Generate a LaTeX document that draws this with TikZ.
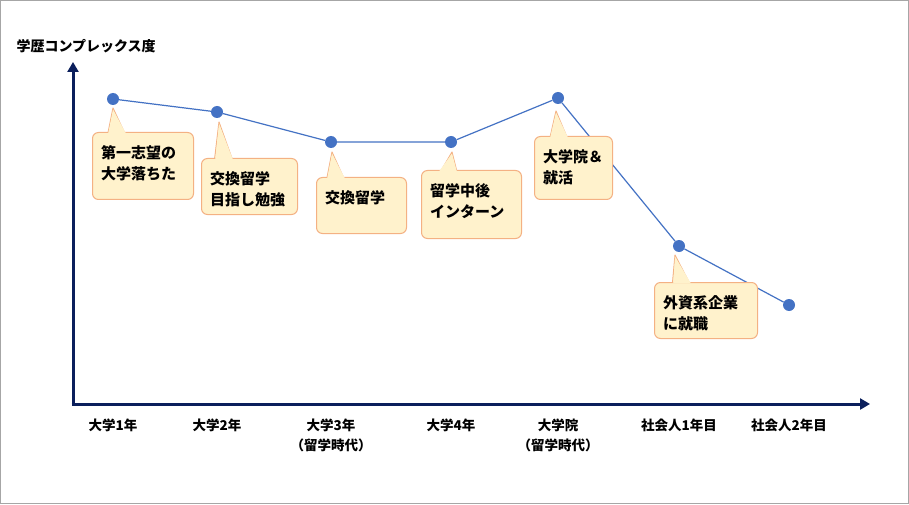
\documentclass[tikz,border=0pt]{standalone}
\usepackage{fontspec}
\setmainfont{Noto Sans CJK JP}
\usetikzlibrary{arrows.meta}
\definecolor{navy}{HTML}{0B1F5C}
\definecolor{pt}{HTML}{4472C4}
\definecolor{cfill}{HTML}{FFF2CC}
\definecolor{cline}{HTML}{F4B183}
\tikzset{
  dot/.style={circle,fill=pt,inner sep=0pt,minimum size=12pt},
  link/.style={pt,line width=1.2pt},
  axis/.style={navy,line width=3pt,-{Triangle[length=10pt,width=11pt]}},
  callout/.style={draw=cline,fill=cfill,line width=1pt,rounded corners=6pt,anchor=north west,align=left,inner sep=0pt,font=\bfseries\fontsize{15}{20}\selectfont},
  tailfill/.style={fill=cfill},
  taildraw/.style={draw=cline,fill=cfill,line width=1pt,line join=round},
  lab/.style={font=\bfseries\fontsize{13.5}{20}\selectfont,align=center,anchor=north}
}
\newcommand{\callout}[8]{%
  % #1 name, #2 x, #3 y (top-left), #4 width, #5 height, #6 tip, #7 base x, #8 text
  \path[taildraw] #6 -- (#7,#3-6) -- (#7+20,#3-6) -- cycle;
  \node[callout,minimum width=#4,minimum height=#5] (#1) at (#2,#3) {};
  \path[tailfill] #6 ++(0,-1.5) -- (#7+1.2,#3-1.2) -- (#7+18.8,#3-1.2) -- cycle;
  \node[anchor=north west,align=left,inner sep=0pt,font=\bfseries\fontsize{15}{21}\selectfont] at (#2+9,#3-13) {#8};
}
\begin{document}
\begin{tikzpicture}[x=1pt,y=1pt]
\path[draw=gray!70,line width=0.8pt,fill=white] (0.5,0.5) rectangle (908.5,503.5);
\useasboundingbox (0,0) rectangle (909,504);
\node[anchor=west,font=\bfseries\fontsize{14}{18}\selectfont] (title) at (13,458) {学歴コンプレックス度};
\coordinate (o) at (73,100);
\coordinate (ytop) at (73,442);
\coordinate (xend) at (870,100);
\draw[axis] (o) -- (ytop);
\draw[axis] ([xshift=-1.5pt]o) -- (xend);
\node[dot] (p1) at (113,405) {};
\node[dot] (p2) at (217,392) {};
\node[dot] (p3) at (331,362) {};
\node[dot] (p4) at (451,362) {};
\node[dot] (p5) at (558,406) {};
\node[dot] (p6) at (679,258) {};
\node[dot] (p7) at (789,199) {};
\draw[link] (p1) -- (p2) -- (p3) -- (p4) -- (p5) -- (p6) -- (p7);
\callout{c1}{92}{372}{101pt}{67pt}{(113,396)}{107}{第一志望の\\大学落ちた}
\callout{c2}{201}{346}{96pt}{56pt}{(219,382)}{214}{交換留学\\目指し勉強}
\callout{c3}{316}{327}{90pt}{56pt}{(332,352)}{326}{交換留学}
\callout{c4}{421}{334}{100pt}{68pt}{(452,352)}{438}{留学中後\\インターン}
\callout{c5}{534}{368}{78pt}{63pt}{(556,393)}{549}{大学院＆\\就活}
\callout{c6}{654}{222}{103pt}{56pt}{(675,249)}{672}{外資系企業\\に就職}
\node[lab] (l1) at (113,89) {大学1年};
\node[lab] (l2) at (217,89) {大学2年};
\node[lab] (l3) at (331,89) {大学3年\\（留学時代）};
\node[lab] (l4) at (451,89) {大学4年};
\node[lab] (l5) at (558,89) {大学院\\（留学時代）};
\node[lab] (l6) at (679,89) {社会人1年目};
\node[lab] (l7) at (789,89) {社会人2年目};
\end{tikzpicture}
\end{document}
